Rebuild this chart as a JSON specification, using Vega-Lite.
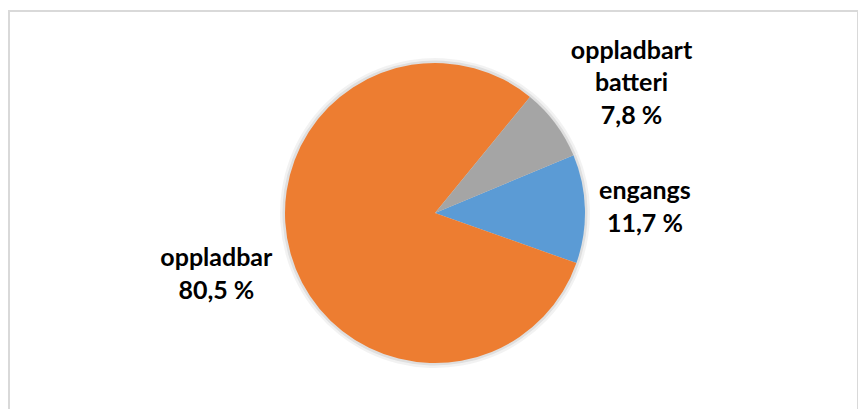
{
  "$schema": "https://vega.github.io/schema/vega-lite/v6.json",
  "autosize": {"type": "none"},
  "padding": {"left": 9, "top": 11, "right": 0, "bottom": 0},
  "width": 849,
  "height": 404,
  "background": "white",
  "data": {
    "values": [
      {"category": "engangs", "share": 11.7, "label": "engangs\n11,7 %"},
      {"category": "oppladbar", "share": 80.5, "label": "oppladbar\n80,5 %"},
      {"category": "oppladbart batteri", "share": 7.8, "label": "oppladbart\nbatteri\n7,8 %"}
    ]
  },
  "layer": [
    {
      "mark": {"type": "rect", "fill": null, "filled": false, "stroke": "#D9D9D9", "strokeWidth": 2},
      "encoding": {}
    },
    {
      "mark": {"type": "arc", "outerRadius": 155, "xOffset": 1.5, "fill": "#000000", "opacity": 0.05},
      "encoding": {
        "theta": {"field": "share", "type": "quantitative", "stack": true, "scale": {"range": [1.176, 7.459]}},
        "order": {"field": "category", "sort": "ascending"}
      }
    },
    {
      "mark": {"type": "arc", "outerRadius": 152.5, "xOffset": 1.5, "fill": "#000000", "opacity": 0.08},
      "encoding": {
        "theta": {"field": "share", "type": "quantitative", "stack": true, "scale": {"range": [1.176, 7.459]}},
        "order": {"field": "category", "sort": "ascending"}
      }
    },
    {
      "mark": {"type": "arc", "outerRadius": 150, "xOffset": 1.5},
      "encoding": {
        "theta": {"field": "share", "type": "quantitative", "stack": true, "scale": {"range": [1.176, 7.459]}},
        "order": {"field": "category", "sort": "ascending"},
        "color": {"field": "category", "type": "nominal", "legend": null,
          "scale": {"domain": ["engangs", "oppladbar", "oppladbart batteri"],
                    "range": ["#5B9BD5", "#ED7D31", "#A5A5A5"]}}
      }
    },
    {
      "mark": {"type": "text", "xOffset": 1.5, "dy": -16, "lineBreak": "\n",
        "radius": {"expr": "datum.category === 'engangs' ? 210 : datum.category === 'oppladbar' ? 227 : 245"},
        "font": "Lato", "fontWeight": "bold", "fontSize": 25, "lineHeight": 32.5,
        "fill": "#000000", "align": "center", "baseline": "middle"},
      "encoding": {
        "theta": {"field": "share", "type": "quantitative", "stack": true, "scale": {"range": [1.176, 7.459]}},
        "order": {"field": "category", "sort": "ascending"},
        "text": {"field": "label"}
      }
    }
  ]
}
